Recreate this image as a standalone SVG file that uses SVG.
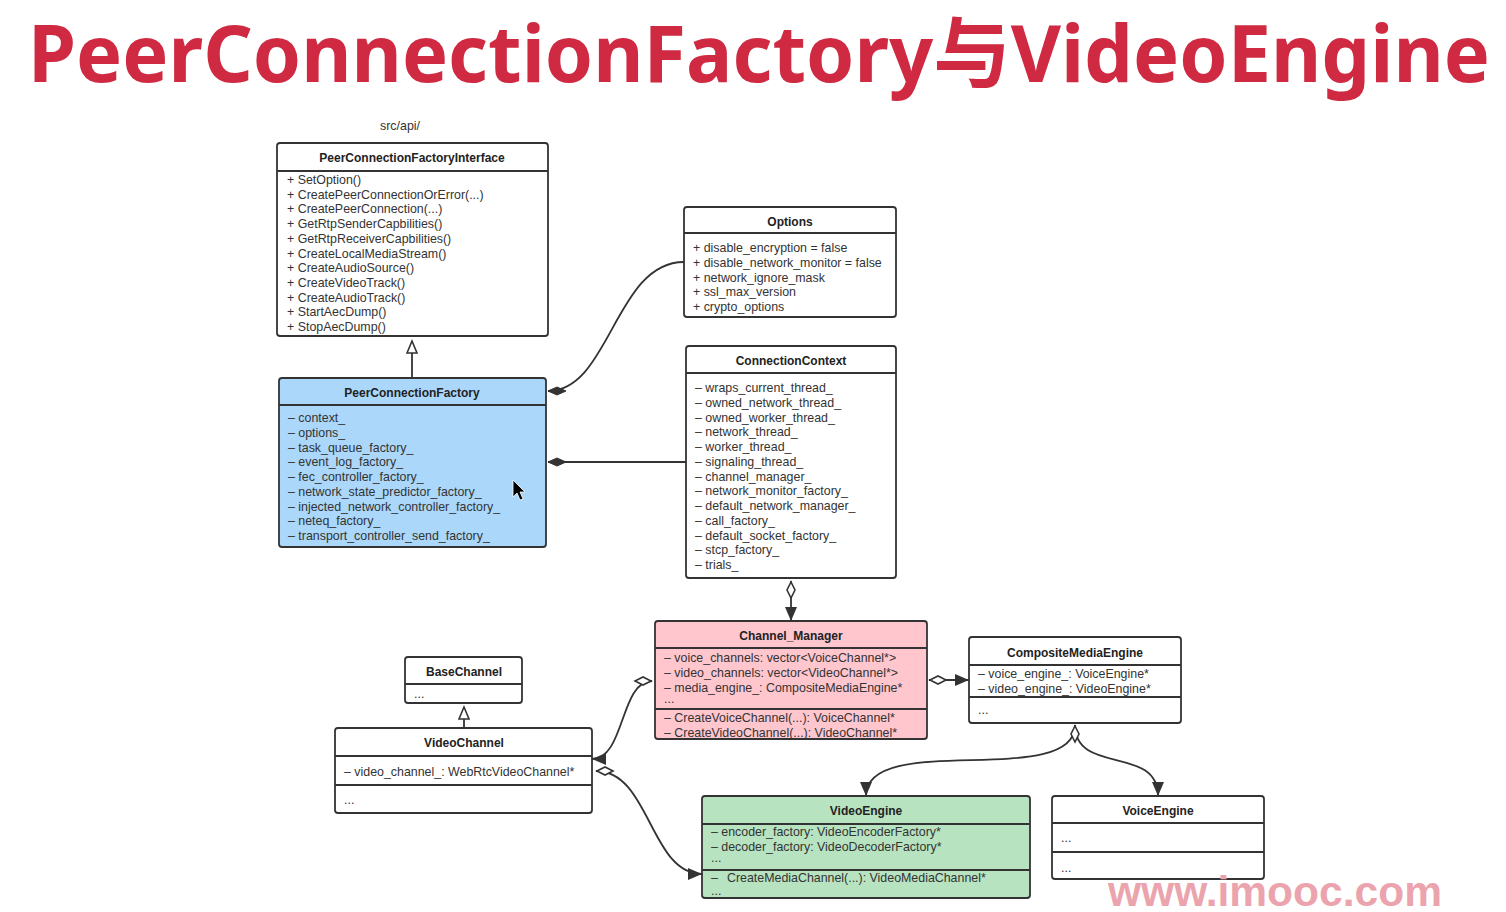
<svg xmlns="http://www.w3.org/2000/svg" width="1506" height="912" viewBox="0 0 1506 912">
<style>
.bg{fill:#fff}
.box{stroke:#333;stroke-width:1.8;fill:#fff}
.blue{fill:#abd7fa}
.pink{fill:#ffc6ce}
.green{fill:#b8e3c0}
.sep{stroke:#333;stroke-width:1.8}
.t{font-family:"Liberation Sans",Arial,sans-serif;font-size:12px;fill:#222;text-anchor:middle;font-weight:bold;dominant-baseline:central}
.i{font-family:"Liberation Sans",Arial,sans-serif;font-size:12.4px;fill:#333;dominant-baseline:central}
.c{fill:none;stroke:#333;stroke-width:1.8}
.title{font-family:"Noto Sans","Open Sans","Noto Sans CJK SC",sans-serif;font-weight:bold;font-size:78px;fill:#cf2a42}
.wm{font-family:"Liberation Sans",Arial,sans-serif;font-weight:bold;font-size:42px;fill:#eba4ad}
</style>
<defs>
<marker id="dfill" markerUnits="userSpaceOnUse" markerWidth="18" markerHeight="12" refX="0" refY="5" orient="auto" viewBox="0 0 18 12" overflow="visible"><polygon points="0,5 9,1 18,5 9,9" fill="#333" stroke="#333" stroke-width="1"/></marker>
<marker id="dhollow" markerUnits="userSpaceOnUse" markerWidth="18" markerHeight="12" refX="0" refY="5" orient="auto" viewBox="0 0 18 12" overflow="visible"><polygon points="1,5 9,1 17,5 9,9" fill="#fff" stroke="#333" stroke-width="1.6"/></marker>
<marker id="arr" markerUnits="userSpaceOnUse" markerWidth="16" markerHeight="12" refX="14" refY="6" orient="auto" viewBox="0 0 16 12" overflow="visible"><polygon points="0,0 14,6 0,12" fill="#333"/></marker>
<marker id="tri" markerUnits="userSpaceOnUse" markerWidth="14" markerHeight="14" refX="12" refY="5" orient="auto" viewBox="0 0 14 14" overflow="visible"><polygon points="0,0 12,5 0,10" fill="#fff" stroke="#333" stroke-width="1.6"/></marker>
</defs>
<rect class="bg" x="0" y="0" width="1506" height="912"/>

<text class="title" x="28" y="82" textLength="1462" lengthAdjust="spacingAndGlyphs">PeerConnectionFactory与VideoEngine</text>

<text class="i" x="400" y="126" text-anchor="middle">src/api/</text>

<g id="connectors">
<path class="c" d="M412,378 L412,341" marker-end="url(#tri)"/>
<path class="c" d="M464,728 L464,707" marker-end="url(#tri)"/>
<path class="c" d="M548,391 C610,391 615,262 684,262" marker-start="url(#dfill)"/>
<path class="c" d="M548,462 L686,462" marker-start="url(#dfill)"/>
<path class="c" d="M791,581 L791,621" marker-start="url(#dhollow)" marker-end="url(#arr)"/>
<path class="c" d="M929,680 L969,680" marker-start="url(#dhollow)" marker-end="url(#arr)"/>
<path class="c" d="M652,681 C620,681 625,759 592,759" marker-start="url(#dhollow)" marker-end="url(#arr)"/>
<path class="c" d="M596,771 C650,771 650,874 702,874" marker-start="url(#dhollow)" marker-end="url(#arr)"/>
<path class="c" d="M1075,725 C1075,790 866,730 866,796" marker-end="url(#arr)"/>
<path class="c" d="M1075,725 C1075,775 1158,745 1158,796" marker-start="url(#dhollow)" marker-end="url(#arr)"/>
</g>

<g id="PeerConnectionFactoryInterface">
<rect class="box" x="277" y="143" width="271" height="193" rx="3"/>
<line class="sep" x1="277" y1="171" x2="548" y2="171"/>
<text class="t" x="412" y="158">PeerConnectionFactoryInterface</text>
<text class="i" x="287" y="180">+ SetOption()</text>
<text class="i" x="287" y="194.7">+ CreatePeerConnectionOrError(...)</text>
<text class="i" x="287" y="209.4">+ CreatePeerConnection(...)</text>
<text class="i" x="287" y="224.1">+ GetRtpSenderCapbilities()</text>
<text class="i" x="287" y="238.8">+ GetRtpReceiverCapbilities()</text>
<text class="i" x="287" y="253.5">+ CreateLocalMediaStream()</text>
<text class="i" x="287" y="268.2">+ CreateAudioSource()</text>
<text class="i" x="287" y="282.9">+ CreateVideoTrack()</text>
<text class="i" x="287" y="297.6">+ CreateAudioTrack()</text>
<text class="i" x="287" y="312.3">+ StartAecDump()</text>
<text class="i" x="287" y="327">+ StopAecDump()</text>
</g>

<g id="PeerConnectionFactory">
<rect class="box blue" x="279" y="378" width="267" height="169" rx="3"/>
<line class="sep" x1="279" y1="405" x2="546" y2="405"/>
<text class="t" x="412" y="393">PeerConnectionFactory</text>
<text class="i" x="288" y="418">– context_</text>
<text class="i" x="288" y="432.75">– options_</text>
<text class="i" x="288" y="447.5">– task_queue_factory_</text>
<text class="i" x="288" y="462.25">– event_log_factory_</text>
<text class="i" x="288" y="477">– fec_controller_factory_</text>
<text class="i" x="288" y="491.75">– network_state_predictor_factory_</text>
<text class="i" x="288" y="506.5">– injected_network_controller_factory_</text>
<text class="i" x="288" y="521.25">– neteq_factory_</text>
<text class="i" x="288" y="536">– transport_controller_send_factory_</text>
<polygon points="513,480 513,497 517,493 520,500 523,499 520,492 525,492" fill="#000" stroke="#fff" stroke-width="0.8"/>
</g>

<g id="Options">
<rect class="box" x="684" y="207" width="212" height="110" rx="3"/>
<line class="sep" x1="684" y1="233" x2="896" y2="233"/>
<text class="t" x="790" y="222">Options</text>
<text class="i" x="693" y="248">+ disable_encryption = false</text>
<text class="i" x="693" y="262.75">+ disable_network_monitor = false</text>
<text class="i" x="693" y="277.5">+ network_ignore_mask</text>
<text class="i" x="693" y="292.25">+ ssl_max_version</text>
<text class="i" x="693" y="307">+ crypto_options</text>
</g>

<g id="ConnectionContext">
<rect class="box" x="686" y="346" width="210" height="232" rx="3"/>
<line class="sep" x1="686" y1="373" x2="896" y2="373"/>
<text class="t" x="791" y="361">ConnectionContext</text>
<text class="i" x="695" y="388">– wraps_current_thread_</text>
<text class="i" x="695" y="402.75">– owned_network_thread_</text>
<text class="i" x="695" y="417.5">– owned_worker_thread_</text>
<text class="i" x="695" y="432.25">– network_thread_</text>
<text class="i" x="695" y="447">– worker_thread_</text>
<text class="i" x="695" y="461.75">– signaling_thread_</text>
<text class="i" x="695" y="476.5">– channel_manager_</text>
<text class="i" x="695" y="491.25">– network_monitor_factory_</text>
<text class="i" x="695" y="506">– default_network_manager_</text>
<text class="i" x="695" y="520.75">– call_factory_</text>
<text class="i" x="695" y="535.5">– default_socket_factory_</text>
<text class="i" x="695" y="550.25">– stcp_factory_</text>
<text class="i" x="695" y="565">– trials_</text>
</g>

<g id="Channel_Manager">
<rect class="box pink" x="655" y="621" width="272" height="118" rx="3"/>
<line class="sep" x1="655" y1="648" x2="927" y2="648"/>
<line class="sep" x1="655" y1="709" x2="927" y2="709"/>
<text class="t" x="791" y="636">Channel_Manager</text>
<text class="i" x="664" y="658">– voice_channels: vector&lt;VoiceChannel*&gt;</text>
<text class="i" x="664" y="673">– video_channels: vector&lt;VideoChannel*&gt;</text>
<text class="i" x="664" y="688">– media_engine_: CompositeMediaEngine*</text>
<text class="i" x="664" y="699">...</text>
<text class="i" x="664" y="718">– CreateVoiceChannel(...): VoiceChannel*</text>
<text class="i" x="664" y="733">– CreateVideoChannel(...): VideoChannel*</text>
</g>

<g id="CompositeMediaEngine">
<rect class="box" x="969" y="637" width="212" height="86" rx="3"/>
<line class="sep" x1="969" y1="665" x2="1181" y2="665"/>
<line class="sep" x1="969" y1="697" x2="1181" y2="697"/>
<text class="t" x="1075" y="653">CompositeMediaEngine</text>
<text class="i" x="978" y="674">– voice_engine_: VoiceEngine*</text>
<text class="i" x="978" y="689">– video_engine_: VideoEngine*</text>
<text class="i" x="978" y="710">...</text>
</g>

<g id="BaseChannel">
<rect class="box" x="405" y="657" width="117" height="46" rx="3"/>
<line class="sep" x1="405" y1="684" x2="522" y2="684"/>
<text class="t" x="464" y="672">BaseChannel</text>
<text class="i" x="414" y="694">...</text>
</g>

<g id="VideoChannel">
<rect class="box" x="335" y="728" width="257" height="85" rx="3"/>
<line class="sep" x1="335" y1="756" x2="592" y2="756"/>
<line class="sep" x1="335" y1="785" x2="592" y2="785"/>
<text class="t" x="464" y="743">VideoChannel</text>
<text class="i" x="344" y="772">– video_channel_: WebRtcVideoChannel*</text>
<text class="i" x="344" y="800">...</text>
</g>

<g id="VideoEngine">
<rect class="box green" x="702" y="796" width="328" height="102" rx="3"/>
<line class="sep" x1="702" y1="824" x2="1030" y2="824"/>
<line class="sep" x1="702" y1="870" x2="1030" y2="870"/>
<text class="t" x="866" y="811">VideoEngine</text>
<text class="i" x="711" y="832">– encoder_factory: VideoEncoderFactory*</text>
<text class="i" x="711" y="847">– decoder_factory: VideoDecoderFactory*</text>
<text class="i" x="711" y="858">...</text>
<text class="i" x="711" y="878">–</text>
<text class="i" x="727" y="878">CreateMediaChannel(...): VideoMediaChannel*</text>
<text class="i" x="711" y="891">...</text>
</g>

<g id="VoiceEngine">
<rect class="box" x="1052" y="796" width="212" height="83" rx="3"/>
<line class="sep" x1="1052" y1="823" x2="1264" y2="823"/>
<line class="sep" x1="1052" y1="852" x2="1264" y2="852"/>
<text class="t" x="1158" y="811">VoiceEngine</text>
<text class="i" x="1061" y="838">...</text>
<text class="i" x="1061" y="868">...</text>
</g>

<text class="wm" x="1108" y="906" textLength="334" lengthAdjust="spacingAndGlyphs">www.imooc.com</text>
</svg>
